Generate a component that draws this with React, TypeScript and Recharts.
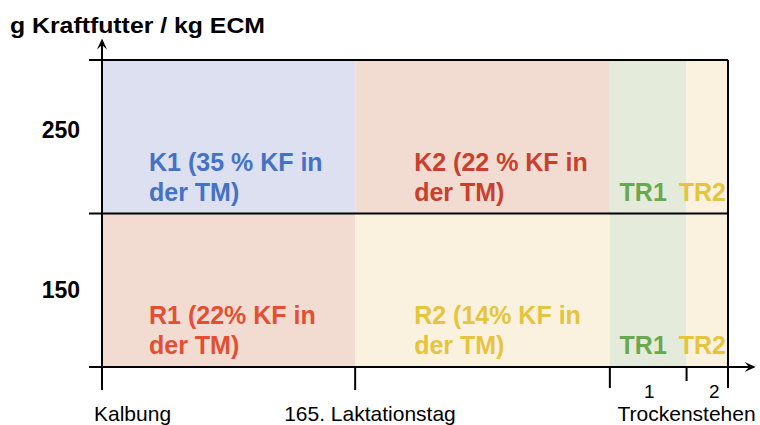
import React from 'react';
import { ComposedChart, XAxis, YAxis, ReferenceArea, ReferenceLine, Label } from 'recharts';

// ---- data ----
const periodStarts = [0, 165, 331, 381];
const periodEnds = [165, 331, 381, 408];
const levelLow = 100;
const levelMid = 200;
const levelHigh = 300;
const upperLabels = [['K1 (35 % KF in', 'der TM)'], ['K2 (22 % KF in', 'der TM)'], ['TR1'], ['TR2']];
const lowerLabels = [['R1 (22% KF in', 'der TM)'], ['R2 (14% KF in', 'der TM)'], ['TR1'], ['TR2']];
const yTickValues = [150, 250];
const yTickLabels = ['150', '250'];
const boundaryTicks = [0, 165, 331, 381, 408];
const boundaryLabels = ['Kalbung', '165. Laktationstag', '', 'Trockenstehen', ''];
const dryPeriodLabels = ['1', '2'];
const yAxisTitle = 'g Kraftfutter / kg ECM';

// ---- styles ----
const upperFills = ['#dde0f1', '#f2dcd1', '#e5ebdb', '#faf2df'];
const lowerFills = ['#f2dcd1', '#faf2df', '#e5ebdb', '#faf2df'];
const upperTextColors = ['#4472c4', '#c9402e', '#6aa84f', '#e6c43e'];
const lowerTextColors = ['#e34f33', '#e6c43e', '#6aa84f', '#e6c43e'];
const labelInsets = [47, 59, -1, -1];
const yLabelDy = [8, 1];
const boundaryTickLen = [23, 23, 21, 14, 21];
const boundaryLabelDx = [-8, -71, 0, 0, 0];
const boundaryLabelAnchor = ['start', 'start', 'middle', 'middle', 'middle'];
const FONT = '"Liberation Sans", Arial, sans-serif';

const dryMidpoints = periodStarts.slice(2).map((s, i) => (s + periodEnds[i + 2]) / 2);
const xTicks = [...boundaryTicks, ...dryMidpoints];

const AreaLabel = (props: any) => {
  const { viewBox, lines, color, inset } = props;
  const vb = viewBox || {};
  const bottom = vb.y + vb.height;
  const centered = inset < 0;
  const x = centered ? vb.x + vb.width / 2 - 5 : vb.x + inset;
  const n = lines.length;
  return (
    <g>
      {lines.map((t: string, i: number) => (
        <text
          key={i}
          x={x}
          y={bottom - 13 - (n - 1 - i) * 30}
          textAnchor={centered ? 'middle' : 'start'}
          fill={color}
          fontFamily={FONT}
          fontWeight="bold"
          fontSize={25}
        >
          {t}
        </text>
      ))}
    </g>
  );
};

const XTick = (props: any) => {
  const { x, y, payload } = props;
  const v = payload.value;
  const bi = boundaryTicks.indexOf(v);
  if (bi >= 0) {
    return (
      <g>
        <line x1={x} y1={y} x2={x} y2={y + boundaryTickLen[bi]} stroke="#000" strokeWidth={2} />
        {boundaryLabels[bi] ? (
          <text x={x + boundaryLabelDx[bi]} y={y + 54} textAnchor={boundaryLabelAnchor[bi] as any} fontFamily={FONT} fontSize={21} fill="#000">
            {boundaryLabels[bi]}
          </text>
        ) : null}
      </g>
    );
  }
  const di = dryMidpoints.indexOf(v);
  return (
    <text x={x + (di === 1 ? 7 : 1)} y={y + 31} textAnchor="middle" fontFamily={FONT} fontSize={19} fill="#000">
      {dryPeriodLabels[di]}
    </text>
  );
};

const YTick = (props: any) => {
  const { x, y, payload } = props;
  const v = payload.value;
  const li = yTickValues.indexOf(v);
  if (li >= 0) {
    return (
      <text x={x - 22} y={y + yLabelDy[li]} textAnchor="end" fontFamily={FONT} fontWeight="bold" fontSize={23} fill="#000">
        {yTickLabels[li]}
      </text>
    );
  }
  return <line x1={x - 13} y1={y} x2={x} y2={y} stroke="#000" strokeWidth={2} />;
};

const TitleLabel = () => (
  <text x={10} y={33} fontFamily={FONT} fontWeight="bold" fontSize={22} fill="#000" textLength={255} lengthAdjust="spacingAndGlyphs">
    {yAxisTitle}
  </text>
);

const ArrowLine = (props: any) => {
  const { x1, y1, x2, y2 } = props;
  const ang = Math.atan2(y2 - y1, x2 - x1);
  const L = 11;
  const W = 5;
  const bx = x2 - L * Math.cos(ang);
  const by = y2 - L * Math.sin(ang);
  const px = -Math.sin(ang) * W;
  const py = Math.cos(ang) * W;
  const nx = x2 - (L * 0.6) * Math.cos(ang);
  const ny = y2 - (L * 0.6) * Math.sin(ang);
  return (
    <g>
      <line x1={x1} y1={y1} x2={nx} y2={ny} stroke="#000" strokeWidth={2} />
      <path d={`M${x2},${y2} L${bx + px},${by + py} L${nx},${ny} L${bx - px},${by - py} Z`} fill="#000" />
    </g>
  );
};

export default function App() {
  return (
    <div style={{ position: 'absolute', left: 0, top: 0, width: 760, height: 425, background: '#fff' }}>
      <ComposedChart width={760} height={425} margin={{ top: 60, right: 32, bottom: 0, left: 12 }}>
        <XAxis
          type="number"
          dataKey="x"
          domain={[periodStarts[0], periodEnds[periodEnds.length - 1]]}
          ticks={xTicks}
          interval={0}
          height={58}
          axisLine={false}
          tickLine={false}
          tickSize={0}
          tickMargin={0}
          tick={<XTick />}
          allowDataOverflow
        />
        <YAxis
          type="number"
          domain={[levelLow, levelHigh]}
          ticks={[levelLow, ...yTickValues, levelMid, levelHigh].sort((a, b) => a - b)}
          interval={0}
          width={90}
          axisLine={false}
          tickLine={false}
          tickSize={0}
          tickMargin={0}
          tick={<YTick />}
          allowDataOverflow
        >
          <Label content={<TitleLabel />} />
        </YAxis>
        {periodStarts.map((s, i) => (
          <ReferenceArea
            key={'u' + i}
            x1={s}
            x2={periodEnds[i]}
            y1={levelMid}
            y2={levelHigh}
            fill={upperFills[i]}
            fillOpacity={1}
            stroke="none"
            ifOverflow="visible"
            label={<AreaLabel lines={upperLabels[i]} color={upperTextColors[i]} inset={labelInsets[i]} />}
          />
        ))}
        {periodStarts.map((s, i) => (
          <ReferenceArea
            key={'l' + i}
            x1={s}
            x2={periodEnds[i]}
            y1={levelLow}
            y2={levelMid}
            fill={lowerFills[i]}
            fillOpacity={1}
            stroke="none"
            ifOverflow="visible"
            label={<AreaLabel lines={lowerLabels[i]} color={lowerTextColors[i]} inset={labelInsets[i]} />}
          />
        ))}
        <ReferenceLine y={levelHigh} stroke="#000" strokeWidth={2} ifOverflow="visible" />
        <ReferenceLine y={levelMid} stroke="#000" strokeWidth={2} ifOverflow="visible" />
        <ReferenceLine x={periodEnds[periodEnds.length - 1]} stroke="#000" strokeWidth={2} ifOverflow="visible" />
        <ReferenceLine
          segment={[{ x: periodStarts[0], y: 85 }, { x: periodStarts[0], y: 314 }]}
          ifOverflow="visible"
          shape={<ArrowLine />}
        />
        <ReferenceLine
          segment={[{ x: periodStarts[0], y: levelLow }, { x: 426, y: levelLow }]}
          ifOverflow="visible"
          shape={<ArrowLine />}
        />
      </ComposedChart>
    </div>
  );
}
